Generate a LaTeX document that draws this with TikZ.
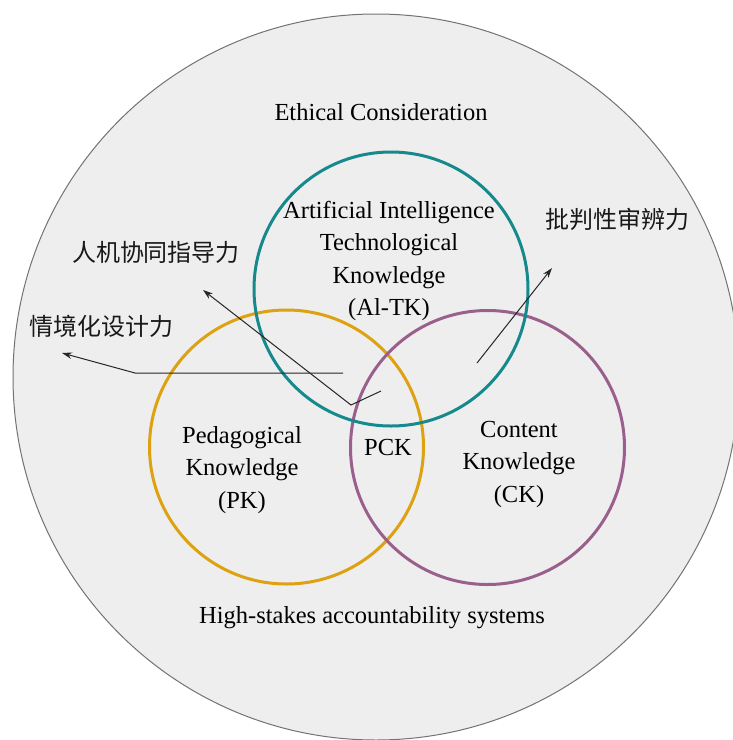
\documentclass[tikz,border=0pt]{standalone}
\usepackage{fontspec}
\setmainfont{Liberation Serif}
\newfontfamily\cjk{Noto Sans CJK SC}
\usetikzlibrary{arrows.meta}
\definecolor{ringteal}{HTML}{16898C}
\definecolor{ringgold}{HTML}{DDA112}
\definecolor{ringplum}{HTML}{9B5F8C}
\definecolor{backfill}{HTML}{EEEEEE}
\tikzset{
	ring/.style={draw=#1, line width=3pt, circle, minimum size=274pt, inner sep=0pt},
	lbl/.style={align=center, font=\fontsize{24.5}{32.5}\selectfont, text=black},
	zh/.style={font=\cjk\fontsize{24}{28}\selectfont, text=black!90},
	pointer/.style={draw=black!85, line width=1pt, -{Stealth[length=10pt,width=6.5pt]}}
}

\begin{document}
\begin{tikzpicture}[x=1pt, y=-1pt]
			%%%%% START %%%%%
			\useasboundingbox (0, 0) rectangle (733, 740);
			
			\draw[fill=backfill, draw=black!55, line width=1pt] (376, 377) circle[radius=363pt];
			
			\node[ring=ringgold] (pk) at (286.5, 447) {};
			\node[ring=ringplum] (ck) at (487.5, 447.5) {};
			\node[ring=ringteal] (aitk) at (391, 289) {};
			
			\node[lbl] (ethics) at (381, 112) {Ethical Consideration};
			\node[lbl] (aitktext) at (389, 261) {Artificial Intelligence\\Technological\\Knowledge\\(Al-TK)};
			\node[lbl] (pktext) at (242, 470) {Pedagogical\\Knowledge\\(PK)};
			\node[lbl] (cktext) at (519, 464) {Content\\Knowledge\\(CK)};
			\node[lbl] (pck) at (388, 448) {PCK};
			\node[lbl] (stakes) at (372, 618) {High-stakes accountability systems};
			
			\node[zh] (situated) at (102, 326) {情境化设计力};
			\node[zh] (collab) at (156, 252) {人机协同指导力};
			\node[zh] (critical) at (617, 219) {批判性审辨力};
			
			\coordinate (s1) at (343, 373);
			\coordinate (b1) at (135, 373);
			\coordinate (t1) at (62, 353);
			\draw[pointer] (s1) -- (b1) -- (t1);
			
			\coordinate (s2) at (381, 391);
			\coordinate (b2) at (351, 405);
			\coordinate (t2) at (203, 290);
			\draw[pointer] (s2) -- (b2) -- (t2);
			
			\coordinate (s3) at (477, 363);
			\coordinate (t3) at (552, 268);
			\draw[pointer] (s3) -- (t3);
			
			%%%%% END %%%%%
		\end{tikzpicture}
\end{document}
